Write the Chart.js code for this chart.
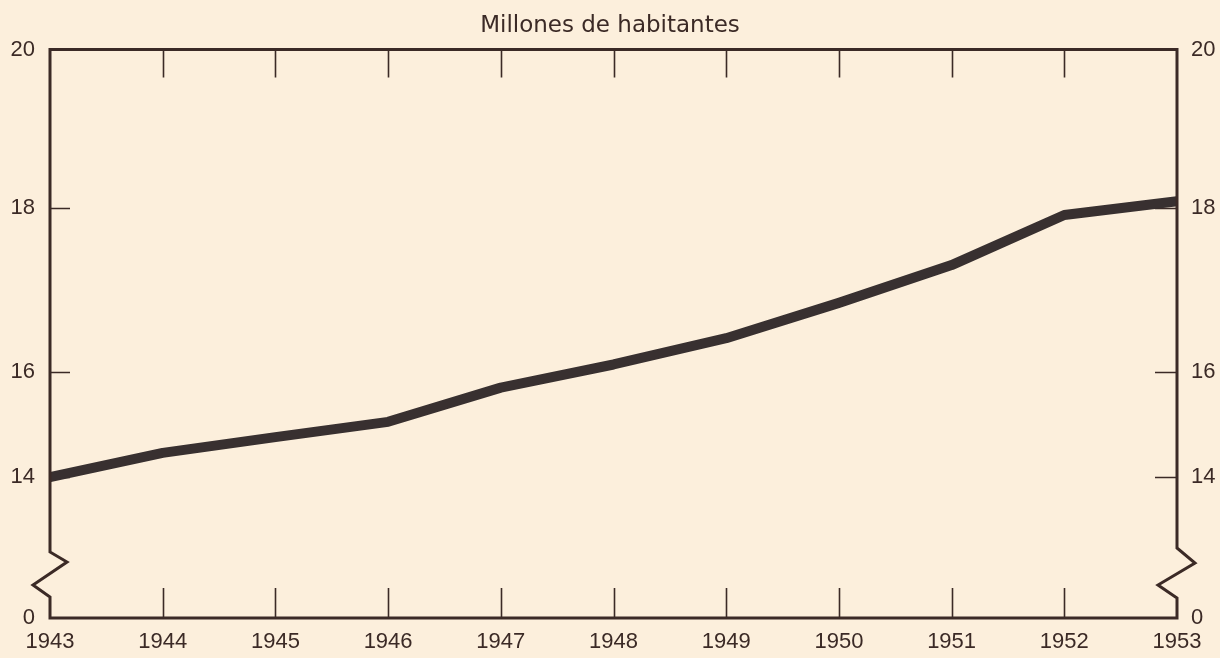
<!DOCTYPE html>
<html lang="es">
<head>
<meta charset="utf-8">
<title>Millones de habitantes</title>
<script src="https://cdn.jsdelivr.net/npm/chart.js@4.4.1/dist/chart.umd.min.js"></script>
<style>
    html, body { margin: 0; padding: 0; background: #fcefdc; }
    canvas { display: block; }
</style>
</head>
<body>
<canvas id="popChart" width="1220" height="658"></canvas>
<script>
"use strict";

// --- data ---
const years = ["1943", "1944", "1945", "1946", "1947", "1948", "1949", "1950", "1951", "1952", "1953"];
const population = [14.0, 14.46, 14.76, 15.05, 15.70, 16.09, 16.41, 16.84, 17.30, 17.91, 18.08];
const yTicks = [0, 14, 16, 18, 20];
const innerTicks = [14, 16, 18];

// where each y tick sits on the (hand drawn, broken) axis, 0 = bottom, 1 = top
const Y_TICK_POS = [0, 0.248, 0.433, 0.722, 1];

const INK = "#3b2a26";
const LINE_INK = "#383030";
const PAPER = "#fcefdc";

function valueToFraction(v) {
    for (let i = 1; i < yTicks.length; i++) {
        if (v <= yTicks[i] || i === yTicks.length - 1) {
            const t = (v - yTicks[i - 1]) / (yTicks[i] - yTicks[i - 1]);
            return Y_TICK_POS[i - 1] + t * (Y_TICK_POS[i] - Y_TICK_POS[i - 1]);
        }
    }
    return 0;
}

function fractionToValue(f) {
    for (let i = 1; i < Y_TICK_POS.length; i++) {
        if (f <= Y_TICK_POS[i] || i === Y_TICK_POS.length - 1) {
            const t = (f - Y_TICK_POS[i - 1]) / (Y_TICK_POS[i] - Y_TICK_POS[i - 1]);
            return yTicks[i - 1] + t * (yTicks[i] - yTicks[i - 1]);
        }
    }
    return 0;
}

// linear scale with a piecewise mapping (axis is broken between 0 and 14)
class BrokenScale extends Chart.LinearScale {
    getPixelForValue(value) {
        if (value === null || value === undefined) return NaN;
        return this.getPixelForDecimal(valueToFraction(value));
    }
    getValueForPixel(pixel) {
        return fractionToValue(this.getDecimalForPixel(pixel));
    }
}
BrokenScale.id = "broken";
Chart.register(BrokenScale);

// frame, zigzag breaks and inner tick marks
const framePlugin = {
    id: "frame",
    beforeDraw(chart) {
        const ctx = chart.ctx;
        ctx.save();
        ctx.fillStyle = PAPER;
        ctx.fillRect(0, 0, chart.width, chart.height);
        ctx.restore();
    },
    beforeDatasetsDraw(chart) {
        const { ctx, chartArea: a, scales } = chart;
        ctx.save();
        ctx.strokeStyle = INK;
        ctx.lineWidth = 1.6;
        ctx.beginPath();
        // year ticks, top and bottom
        for (let i = 1; i < years.length - 1; i++) {
            const x = Math.round(scales.x.getPixelForValue(i)) + 0.5;
            ctx.moveTo(x, a.top);
            ctx.lineTo(x, a.top + 28);
            ctx.moveTo(x, a.bottom);
            ctx.lineTo(x, a.bottom - 30);
        }
        // value ticks, left and right
        innerTicks.forEach(v => {
            const y = Math.round(scales.y.getPixelForValue(v)) + 0.5;
            ctx.moveTo(a.left, y);
            ctx.lineTo(a.left + 20, y);
            ctx.moveTo(a.right, y);
            ctx.lineTo(a.right - 22, y);
        });
        ctx.stroke();
        ctx.restore();
    },
    afterDatasetsDraw(chart) {
        const { ctx, chartArea: a } = chart;
        const L = a.left, R = a.right, B = a.bottom;
        ctx.save();
        ctx.strokeStyle = INK;
        ctx.lineWidth = 3;
        ctx.lineJoin = "miter";
        ctx.beginPath();
        ctx.moveTo(L, a.top);
        ctx.lineTo(L, B - 66);
        ctx.lineTo(L + 17, B - 56);
        ctx.lineTo(L - 17, B - 33);
        ctx.lineTo(L, B - 21);
        ctx.lineTo(L, B);
        ctx.lineTo(R, B);
        ctx.lineTo(R, B - 20);
        ctx.lineTo(R - 19, B - 33);
        ctx.lineTo(R + 18, B - 55);
        ctx.lineTo(R, B - 70);
        ctx.lineTo(R, a.top);
        ctx.closePath();
        ctx.stroke();
        ctx.restore();
    }
};

const numFont = { family: "'Liberation Sans', sans-serif", size: 22 };

function yAxis(position, width, pad) {
    return {
        type: "broken",
        position: position,
        min: 0,
        max: 20,
        grid: { display: false, drawTicks: false },
        border: { display: false },
        afterBuildTicks: s => { s.ticks = yTicks.map(v => ({ value: v })); },
        afterFit: s => { s.width = width; },
        ticks: { color: INK, font: numFont, padding: pad }
    };
}

new Chart(document.getElementById("popChart"), {
    type: "line",
    data: {
        labels: years,
        datasets: [{
            label: "Millones de habitantes",
            data: population,
            yAxisID: "y",
            borderColor: LINE_INK,
            borderWidth: 10,
            borderCapStyle: "butt",
            borderJoinStyle: "round",
            pointRadius: 0,
            tension: 0,
            fill: false
        }]
    },
    options: {
        responsive: false,
        devicePixelRatio: 1,
        animation: false,
        layout: { padding: 0 },
        plugins: {
            legend: { display: false },
            tooltip: { enabled: false },
            title: {
                display: true,
                text: "Millones de habitantes",
                color: INK,
                font: { family: "'DejaVu Sans', sans-serif", size: 23, weight: "normal", lineHeight: 1.2 },
                padding: { top: 12, bottom: 10 }
            }
        },
        scales: {
            x: {
                type: "category",
                offset: false,
                grid: { display: false, drawTicks: false },
                border: { display: false },
                afterFit: s => { s.height = 40; },
                ticks: { color: INK, font: numFont, padding: 11, maxRotation: 0, autoSkip: false }
            },
            y: yAxis("left", 50, 15),
            y2: yAxis("right", 43, 14)
        }
    },
    plugins: [framePlugin]
});
</script>
</body>
</html>
